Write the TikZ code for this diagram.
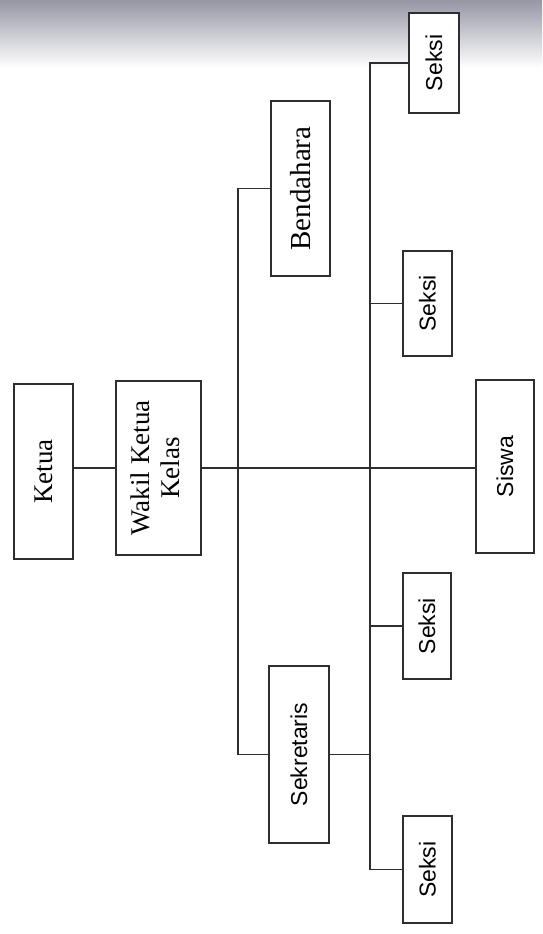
\documentclass[tikz,border=0pt]{standalone}
\usepackage{fontspec}
\setmainfont{Liberation Serif}
\newfontfamily\sansfam{Liberation Sans}
\usetikzlibrary{calc}
\definecolor{inkc}{RGB}{45,45,50}
\definecolor{shadec}{RGB}{150,150,165}
\begin{document}
\begin{tikzpicture}[x=1pt,y=-1pt,
  box/.style={draw=inkc,line width=1.4pt,fill=white,inner sep=0pt},
  conn/.style={draw=inkc,line width=1.2pt},
  serifbox/.style={box,font=\fontsize{27}{30}\selectfont},
  sansbox/.style={box,font=\sansfam\fontsize{23}{26}\selectfont}]
\useasboundingbox (0,0) rectangle (542,934);
\fill[white] (0,0) rectangle (542,934);
\shade[top color=shadec,bottom color=white] (0,0) rectangle (542,68);
% boxes
\node[serifbox,minimum width=59pt,minimum height=175pt] (ketua) at (43.5,471.5) {\rotatebox{90}{Ketua}};
\node[serifbox,minimum width=85pt,minimum height=174pt] (wakil) at (158.5,468) {\rotatebox{90}{\begin{tabular}{@{}c@{}}Wakil Ketua\\Kelas\end{tabular}}};
\node[serifbox,font=\fontsize{29}{32}\selectfont,minimum width=59pt,minimum height=175pt] (bendahara) at (300.5,188.5) {\rotatebox{90}{Bendahara}};
\node[sansbox,minimum width=60pt,minimum height=177pt] (sekretaris) at (299,754.5) {\rotatebox{90}{Sekretaris}};
\node[sansbox,minimum width=58pt,minimum height=173pt] (siswa) at (505,466.5) {\rotatebox{90}{Siswa}};
\node[sansbox,minimum width=50pt,minimum height=100pt] (seksiA) at (434,63) {\rotatebox{90}{Seksi}};
\node[sansbox,minimum width=49pt,minimum height=105pt] (seksiB) at (427.5,303.5) {\rotatebox{90}{Seksi}};
\node[sansbox,minimum width=48pt,minimum height=106pt] (seksiC) at (427,626) {\rotatebox{90}{Seksi}};
\node[sansbox,minimum width=49pt,minimum height=107pt] (seksiD) at (427.5,869.5) {\rotatebox{90}{Seksi}};
% bus coordinates
\coordinate (busA) at (238,470);
\coordinate (busB) at (370,470);
% connectors
\draw[conn] (ketua.east |- wakil.west) -- (wakil.west);
\draw[conn] (wakil.east) -- (wakil.east -| siswa.west);
\draw[conn] (bendahara.west) -| (busA) |- (sekretaris.west);
\draw[conn] (seksiA.west) -| (busB) |- (seksiD.west);
\draw[conn] (seksiB.west) -- (seksiB.west -| busB);
\draw[conn] (seksiC.west) -- (seksiC.west -| busB);
\draw[conn] (sekretaris.east) -- (sekretaris.east -| busB);
\end{tikzpicture}
\end{document}
